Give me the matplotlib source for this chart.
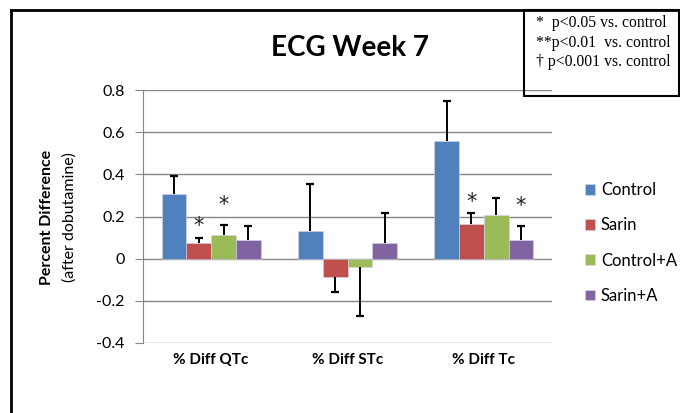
import matplotlib
matplotlib.use('Agg')
import matplotlib.pyplot as plt
import numpy as np
from matplotlib.lines import Line2D
from matplotlib.patches import Rectangle

categories = ['% Diff QTc', '% Diff STc', '% Diff Tc']
groups = ['Control', 'Sarin', 'Control+A', 'Sarin+A']
control = [0.308, 0.133, 0.556]
sarin = [0.075, -0.089, 0.165]
control_a = [0.113, -0.041, 0.208]
sarin_a = [0.090, 0.075, 0.090]
control_err = [0.084, 0.219, 0.193]
sarin_err = [0.024, 0.067, 0.050]
control_a_err = [0.046, 0.230, 0.081]
sarin_a_err = [0.064, 0.143, 0.064]
# (group index, category index, offset level) for the significance stars
stars = [(1, 0, 'low'), (2, 0, 'high'), (1, 2, 'low'), (3, 2, 'high')]

colors = ['#4F81BD', '#C0504D', '#9BBB59', '#8064A2']
values = [control, sarin, control_a, sarin_a]
errors = [control_err, sarin_err, control_a_err, sarin_a_err]

plt.rcParams['font.family'] = ['Lato', 'DejaVu Sans']

fig = plt.figure(figsize=(6.8, 4.13), dpi=100)
W, H = 680, 413
ax = fig.add_axes([143 / W, 1 - 343 / H, (552 - 143) / W, (343 - 90) / H])

x = np.arange(len(categories))
width = 0.181
for i, (vals, errs) in enumerate(zip(values, errors)):
    vals = np.array(vals)
    errs = np.array(errs)
    tips = np.where(vals < 0, vals - errs, vals + errs)
    pos = x + (i - 1.5) * width
    ax.bar(pos, vals, width, color=colors[i], label=groups[i],
           edgecolor='#d8d8e8', linewidth=0.4, zorder=3)
    # one-sided error bars, cap only at the far end
    ax.vlines(pos, vals, tips, color='black', lw=1.4, zorder=4)
    ax.plot(pos, tips, ls='none', marker='_', ms=6, mew=1.6, color='black', zorder=4)

for g, c, lvl in stars:
    pos = x[c] + (g - 1.5) * width
    top = values[g][c] + errors[g][c]
    off = 1 if lvl == 'low' else 7
    ax.annotate('*', xy=(pos, top), xytext=(0, off), textcoords='offset points',
                ha='center', va='bottom', fontsize=15, color='#222222',
                family='DejaVu Sans')

ax.set_xlim(-0.5, 2.5)
ax.set_ylim(-0.4, 0.8)
ax.set_yticks(np.arange(-0.4, 0.81, 0.2))
ax.set_yticklabels(['-0.4', '-0.2', '0', '0.2', '0.4', '0.6', '0.8'], fontsize=11.5)
ax.set_xticks(x)
ax.set_xticklabels(categories, fontsize=11, fontweight='bold')
ax.tick_params(axis='x', length=0, pad=7)
ax.tick_params(axis='y', length=6, color='#868686', pad=7)
ax.grid(axis='y', color='#868686', linewidth=1, zorder=0)
for s in ['top', 'right', 'bottom']:
    ax.spines[s].set_visible(False)
ax.spines['left'].set_color('#868686')

fig.text(47 / W, 1 - 217 / H, 'Percent Difference', rotation=90, ha='center',
         va='center', fontsize=11.5, fontweight='bold')
fig.text(70 / W, 1 - 217 / H, '(after dobutamine)', rotation=90, ha='center',
         va='center', fontsize=11.5)
fig.text(350 / W, 1 - 48 / H, 'ECG Week 7', ha='center', va='center',
         fontsize=20, fontweight='bold')

ax.legend(loc='center left', bbox_to_anchor=(570 / W, 1 - 243 / H),
          bbox_transform=fig.transFigure, frameon=False, fontsize=12,
          handlelength=0.6, handleheight=0.6, handletextpad=0.35,
          labelspacing=1.15)

# outer frame
fig.add_artist(Line2D([11 / W, 11 / W], [0, 1 - 10 / H], color='black', lw=2))
fig.add_artist(Line2D([11 / W, 1], [1 - 10 / H, 1 - 10 / H], color='black', lw=2))

# significance key box
fig.add_artist(Rectangle((524 / W, 1 - 96 / H), (679 - 524) / W, (96 - 10) / H,
                         transform=fig.transFigure, fill=False, edgecolor='black',
                         lw=1.5))
key = ['*  p<0.05 vs. control', '**p<0.01  vs. control', '\u2020 p<0.001 vs. control']
for t, yy in zip(key, [23, 43, 62]):
    fig.text(536 / W, 1 - yy / H, t, ha='left', va='center', fontsize=11.3,
             family=['Liberation Serif', 'DejaVu Serif'])

fig.savefig('out.png', dpi=100)
